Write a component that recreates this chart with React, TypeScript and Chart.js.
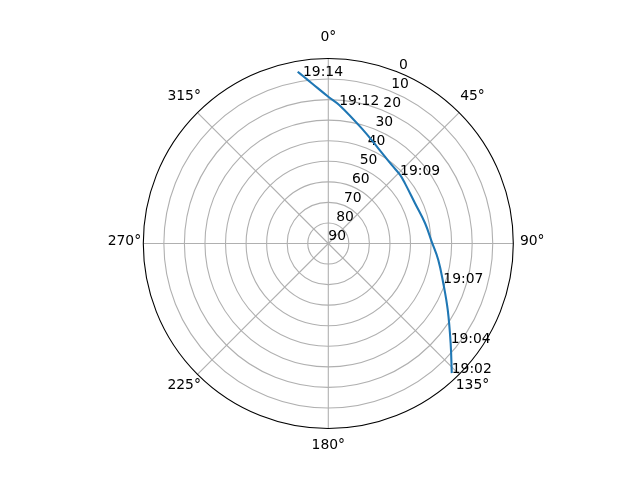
import Chart from "chart.js/auto";
import { useEffect, useRef } from "react";

// satellite pass, azimuth (deg from north, clockwise) and elevation (deg)
const azimuth = [136.4, 129.2, 119.1, 109.1, 98.5, 89.0, 78.2, 65.1, 51.9, 46.3, 38.9, 27.7, 16.2, 4.5, 0.0, 354.1, 351.4, 349.9];
const elevation = [2.9, 13.2, 23.5, 30.8, 35.9, 39.7, 41.9, 43.5, 42.6, 41.7, 40.9, 37.7, 31.7, 22.4, 18.6, 11.6, 7.6, 5.1];
const timeLabels = ["19:02", "19:04", "", "19:07", "", "", "", "", "", "19:09", "", "", "", "19:12", "", "", "19:14", ""];

const ringTicks = [0, 10, 20, 30, 40, 50, 60, 70, 80, 90];
const spokeAngles = [0, 45, 90, 135, 180, 225, 270, 315];

const FONT = "13.9px 'DejaVu Sans'";
const rad = (d: number) => (d * Math.PI) / 180;
const toXY = (az: number, el: number) => ({
  x: (90 - el) * Math.sin(rad(az)),
  y: (90 - el) * Math.cos(rad(az)),
});

const polarGrid = {
  id: "polarGrid",
  beforeDatasetsDraw(chart: any) {
    const { ctx, scales } = chart;
    const sx = scales.x;
    const sy = scales.y;
    const cx = sx.getPixelForValue(0);
    const cy = sy.getPixelForValue(0);
    const pt = (az: number, el: number) => {
      const p = toXY(az, el);
      return [sx.getPixelForValue(p.x), sy.getPixelForValue(p.y)];
    };
    ctx.save();
    ctx.strokeStyle = "#b0b0b0";
    ctx.lineWidth = 1.1;
    ringTicks.forEach((el) => {
      if (el === 0 || el === 90) return;
      const r = sx.getPixelForValue(90 - el) - cx;
      ctx.beginPath();
      ctx.arc(cx, cy, r, 0, Math.PI * 2);
      ctx.stroke();
    });
    spokeAngles.forEach((az) => {
      const [x, y] = pt(az, 0);
      ctx.beginPath();
      ctx.moveTo(cx, cy);
      ctx.lineTo(x, y);
      ctx.stroke();
    });
    ctx.strokeStyle = "#000";
    ctx.lineWidth = 1.1;
    ctx.beginPath();
    ctx.arc(cx, cy, sx.getPixelForValue(90) - cx, 0, Math.PI * 2);
    ctx.stroke();

    ctx.fillStyle = "#000";
    ctx.font = FONT;
    ctx.textAlign = "center";
    ctx.textBaseline = "middle";
    spokeAngles.forEach((az) => {
      const [x, y] = pt(az, -9.2);
      ctx.fillText(az + "°", x, y - 2.5);
    });
    ctx.textAlign = "left";
    ctx.textBaseline = "bottom";
    ringTicks.forEach((el) => {
      const [x, y] = pt(22.5, el);
      ctx.fillText(String(el), x, y);
    });
    ctx.restore();
  },
  afterDatasetsDraw(chart: any) {
    const { ctx, scales } = chart;
    ctx.save();
    ctx.fillStyle = "#000";
    ctx.font = FONT;
    ctx.textAlign = "left";
    ctx.textBaseline = "alphabetic";
    timeLabels.forEach((t, i) => {
      if (!t) return;
      const p = toXY(azimuth[i], elevation[i]);
      ctx.fillText(t, scales.x.getPixelForValue(p.x), scales.y.getPixelForValue(p.y));
    });
    ctx.restore();
  },
};

export default function App() {
  const canvasRef = useRef<HTMLCanvasElement>(null);
  useEffect(() => {
    let chart: Chart | null = null;
    if (canvasRef.current) {
      chart = new Chart(canvasRef.current, {
        type: "scatter",
        data: {
          datasets: [
            {
              data: azimuth.map((az, i) => toXY(az, elevation[i])),
              showLine: true,
              borderColor: "#1f77b4",
              borderWidth: 2.1,
              pointRadius: 0,
              tension: 0.4,
            },
          ],
        },
        options: {
          animation: false,
          responsive: false,
          maintainAspectRatio: false,
          layout: { padding: { left: 143.3, right: 126.7, top: 58.5, bottom: 51.5 } },
          plugins: { legend: { display: false }, tooltip: { enabled: false } },
          scales: {
            x: { type: "linear", min: -90, max: 90, display: false },
            y: { type: "linear", min: -90, max: 90, display: false },
          },
        },
        plugins: [polarGrid],
      });
    }
    return () => {
      if (chart) chart.destroy();
    };
  }, []);
  return (
    <div style={{ position: "fixed", left: 0, top: 0, width: 640, height: 480, background: "#fff" }}>
      <canvas ref={canvasRef} width={640} height={480}></canvas>
    </div>
  );
}
